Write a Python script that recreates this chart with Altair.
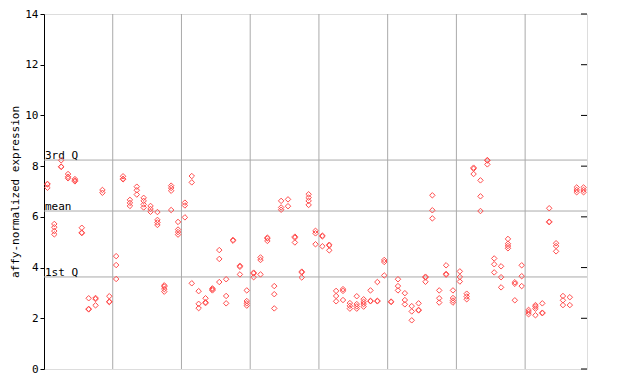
import altair as alt
import pandas as pd

# expression values per sample (replicate points)
expr = [
    [7.30, 7.28, 7.15], [5.72, 5.59, 5.44, 5.31], [8.23, 7.98, 7.97], [7.69, 7.58, 7.52],
    [7.49, 7.43, 7.40], [5.57, 5.38, 5.36], [2.79, 2.37, 2.35], [2.80, 2.76, 2.51],
    [7.06, 6.95], [2.87, 2.66, 2.64], [4.45, 4.10, 3.55], [7.60, 7.50, 7.48],
    [6.67, 6.55, 6.43], [7.19, 7.05, 6.88], [6.75, 6.63, 6.49, 6.37], [6.43, 6.31, 6.20],
    [6.19, 5.88, 5.78, 5.68], [3.30, 3.25, 3.15, 3.05], [7.23, 7.14, 7.03, 6.27], [5.80, 5.50, 5.40, 5.30],
    [6.56, 6.45, 5.98], [7.61, 7.36, 3.38], [3.07, 2.57, 2.40], [2.79, 2.63, 2.60],
    [3.18, 3.14, 3.10], [4.69, 4.34, 3.43], [3.54, 2.88, 2.59], [5.09, 5.06],
    [4.07, 4.03, 3.73], [3.10, 2.68, 2.59, 2.50], [3.80, 3.77, 3.62], [4.40, 4.30, 3.73],
    [5.18, 5.15, 5.05], [3.27, 2.95, 2.39], [6.63, 6.37, 6.28], [6.69, 6.42],
    [5.22, 5.18, 4.99], [3.84, 3.81, 3.61], [6.89, 6.76, 6.63, 6.47], [5.45, 5.35, 4.92],
    [5.26, 5.23, 4.84], [4.90, 4.87, 4.68], [3.08, 2.88, 2.67], [3.15, 3.08, 2.72],
    [2.60, 2.49, 2.38], [2.87, 2.56, 2.47, 2.38], [2.75, 2.65, 2.56, 2.46], [3.10, 2.69, 2.67],
    [3.43, 2.69, 2.67], [4.30, 4.22, 3.69], [2.66, 2.64], [3.54, 3.27, 3.10],
    [2.99, 2.72, 2.55], [2.48, 2.27, 1.92], [2.59, 2.33, 2.31], [3.64, 3.61, 3.44],
    [6.85, 6.26, 5.94], [3.10, 2.79, 2.62], [4.09, 3.75, 3.72], [3.10, 2.80, 2.70, 2.62],
    [3.85, 3.63, 3.45], [2.97, 2.86, 2.75], [7.94, 7.90, 7.69], [7.44, 6.81, 6.23],
    [8.24, 8.22, 8.07], [4.36, 4.13, 3.81], [4.05, 3.62, 3.22], [5.13, 4.94, 4.85, 4.76],
    [3.42, 3.36, 2.71], [4.09, 3.66, 3.27], [2.33, 2.25, 2.16], [2.52, 2.46, 2.38, 2.12],
    [2.59, 2.22, 2.20], [6.34, 5.81, 5.79], [4.96, 4.85, 4.64], [2.88, 2.71, 2.52],
    [2.83, 2.52], [7.16, 7.06, 6.97], [7.16, 7.06, 6.97],
]

group_breaks = [9.5, 19.5, 29.5, 39.5, 49.5, 59.5, 69.5]
stat_names = ["3rd Q", "mean", "1st Q"]
stat_values = [8.24, 6.23, 3.63]
y_ticks = [0, 2, 4, 6, 8, 10, 12, 14]

rows = [{"sample": i, "value": v} for i, vals in enumerate(expr) for v in vals]
points_df = pd.DataFrame(rows)
breaks_df = pd.DataFrame({"pos": group_breaks})
stats_df = pd.DataFrame({"name": stat_names, "value": stat_values})
ticks_df = pd.DataFrame({"value": y_ticks})

FONT = "DejaVu Sans Mono"
xscale = alt.Scale(domain=[-0.5, len(expr) - 0.5], nice=False, zero=False)
yscale = alt.Scale(domain=[0, 14], nice=False)

yaxis = alt.Axis(
    values=y_ticks, grid=False, tickSize=4, tickColor="black", domainColor="black",
    labelFont=FONT, labelFontSize=11, labelColor="black", labelPadding=2,
    title="affy-normalized expression", titleFont=FONT, titleFontSize=11,
    titleFontWeight="normal", titleColor="black", titlePadding=4,
)

vgrid = alt.Chart(breaks_df).mark_rule(color="#aaaaaa", strokeWidth=1).encode(
    x=alt.X("pos:Q", scale=xscale, axis=None)
)

hlines = alt.Chart(stats_df).mark_rule(color="#aaaaaa", strokeWidth=1).encode(
    y=alt.Y("value:Q", scale=yscale, axis=yaxis)
)

labels = alt.Chart(stats_df).mark_text(
    align="left", baseline="bottom", font=FONT, fontSize=11, color="black", dx=1, dy=1
).encode(
    x=alt.value(0),
    y=alt.Y("value:Q", scale=yscale),
    text="name:N",
)

right_ticks = alt.Chart(ticks_df).mark_rule(color="black", strokeWidth=1).encode(
    x=alt.value(537),
    x2=alt.value(543),
    y=alt.Y("value:Q", scale=yscale),
)

pts = alt.Chart(points_df).mark_point(
    shape="diamond", filled=False, size=30, strokeWidth=1, color="#ff4d4d", opacity=1
).encode(
    x=alt.X("sample:Q", scale=xscale, axis=None),
    y=alt.Y("value:Q", scale=yscale),
)

chart = alt.layer(vgrid, hlines, labels, right_ticks, pts).properties(
    width=543,
    height=355,
    autosize=alt.AutoSizeParams(type="none"),
    padding={"left": 36, "top": 6, "right": 40, "bottom": 10},
).configure_view(
    stroke="black", strokeWidth=1
).configure(background="white")

chart.save("out.html", embed_options={"renderer": "svg", "actions": False})
